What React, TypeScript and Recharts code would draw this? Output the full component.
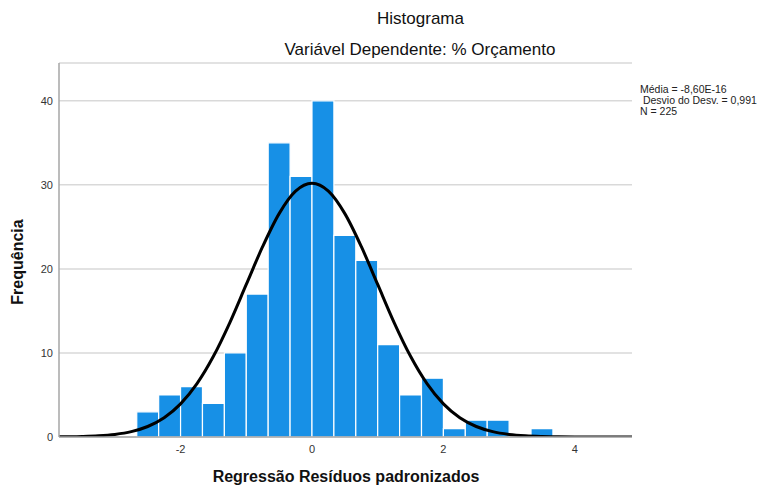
import { ComposedChart, Line, XAxis, YAxis, CartesianGrid, ReferenceArea } from 'recharts'

// histogram bins (width 1/3), lower edges and counts
const binStarts = [-8 / 3, -7 / 3, -2, -5 / 3, -4 / 3, -1, -2 / 3, -1 / 3, 0, 1 / 3, 2 / 3, 1, 4 / 3, 5 / 3, 2, 7 / 3, 8 / 3, 3, 10 / 3]
const binCounts = [3, 5, 6, 4, 10, 17, 35, 31, 40, 24, 21, 11, 5, 7, 1, 2, 2, 0, 1]
const BIN_W = 1 / 3

// normal curve
const curveX = [-3.85, -3.75, -3.5, -3.25, -3, -2.75, -2.5, -2.25, -2, -1.75, -1.5, -1.25, -1, -0.75, -0.5, -0.25, 0,
  0.25, 0.5, 0.75, 1, 1.25, 1.5, 1.75, 2, 2.25, 2.5, 2.75, 3, 3.25, 3.5, 3.75, 4, 4.25, 4.5, 4.87]
const curveY = [0.02, 0.02, 0.06, 0.14, 0.31, 0.64, 1.25, 2.29, 3.94, 6.35, 9.6, 13.62, 18.15, 22.67, 26.58, 29.25, 30.19,
  29.25, 26.58, 22.67, 18.15, 13.62, 9.6, 6.35, 3.94, 2.29, 1.25, 0.64, 0.31, 0.14, 0.06, 0.02, 0.01, 0, 0, 0]

const xTicks = [-2, 0, 2, 4]
const yTicks = [0, 10, 20, 30, 40]

const statsLines = ['Média = -8,60E-16', ' Desvio do Desv. = 0,991', 'N = 225']

const BAR_COLOR = '#1790e6'
const FONT = 'Liberation Sans, Arial, sans-serif'
const TICK = { fill: '#333', fontSize: 11, fontFamily: FONT }

export default function App() {
  const curveData = curveX.map((x, i) => ({ x, y: curveY[i] }))

  return (
    <div style={{ position: 'absolute', left: 0, top: 0, width: 760, height: 488, background: '#fff', fontFamily: FONT }}>
      <ComposedChart width={760} height={488} data={curveData} margin={{ top: 63, right: 128, left: 0, bottom: 0 }}>
        <CartesianGrid vertical={false} stroke="#d9d9d9" strokeWidth={1.5} />
        <XAxis dataKey="x" type="number" domain={[-3.85, 4.87]} allowDataOverflow ticks={xTicks}
          tick={TICK} tickLine={false} axisLine={{ stroke: '#a6a6a6', strokeWidth: 1.5 }} height={51} />
        <YAxis type="number" domain={[0, 44.5]} allowDataOverflow ticks={yTicks} tick={TICK}
          tickLine={false} tickSize={4} tickMargin={2} axisLine={{ stroke: '#a6a6a6', strokeWidth: 1.5 }} width={59} />
        {binStarts.map((s, i) => binCounts[i] > 0 && (
          <ReferenceArea key={i} x1={s} x2={s + BIN_W} y1={0} y2={binCounts[i]}
            fill={BAR_COLOR} fillOpacity={1} stroke="#ffffff" strokeWidth={1.2} />
        ))}
        <Line dataKey="y" type="monotone" stroke="#000" strokeWidth={3} dot={false} activeDot={false} isAnimationActive={false} />
      </ComposedChart>

      <div style={{ position: 'absolute', left: 0, width: 841, top: 9, textAlign: 'center', fontSize: 17, color: '#111' }}>Histograma</div>
      <div style={{ position: 'absolute', left: 0, width: 840, top: 40, textAlign: 'center', fontSize: 17, color: '#111' }}>Variável Dependente: % Orçamento</div>

      <div style={{ position: 'absolute', left: 640, top: 84, fontSize: 10.5, lineHeight: '11px', color: '#222', whiteSpace: 'pre' }}>
        {statsLines.map((t) => <div key={t}>{t}</div>)}
      </div>

      <div style={{ position: 'absolute', left: 0, width: 692, top: 468, textAlign: 'center', fontSize: 16, fontWeight: 'bold', color: '#111' }}>
        Regressão Resíduos padronizados
      </div>
      <div style={{ position: 'absolute', left: 18, top: 262, transform: 'translate(-50%, -50%) rotate(-90deg)', fontSize: 16, fontWeight: 'bold', color: '#111', whiteSpace: 'nowrap' }}>
        Frequência
      </div>
    </div>
  )
}
